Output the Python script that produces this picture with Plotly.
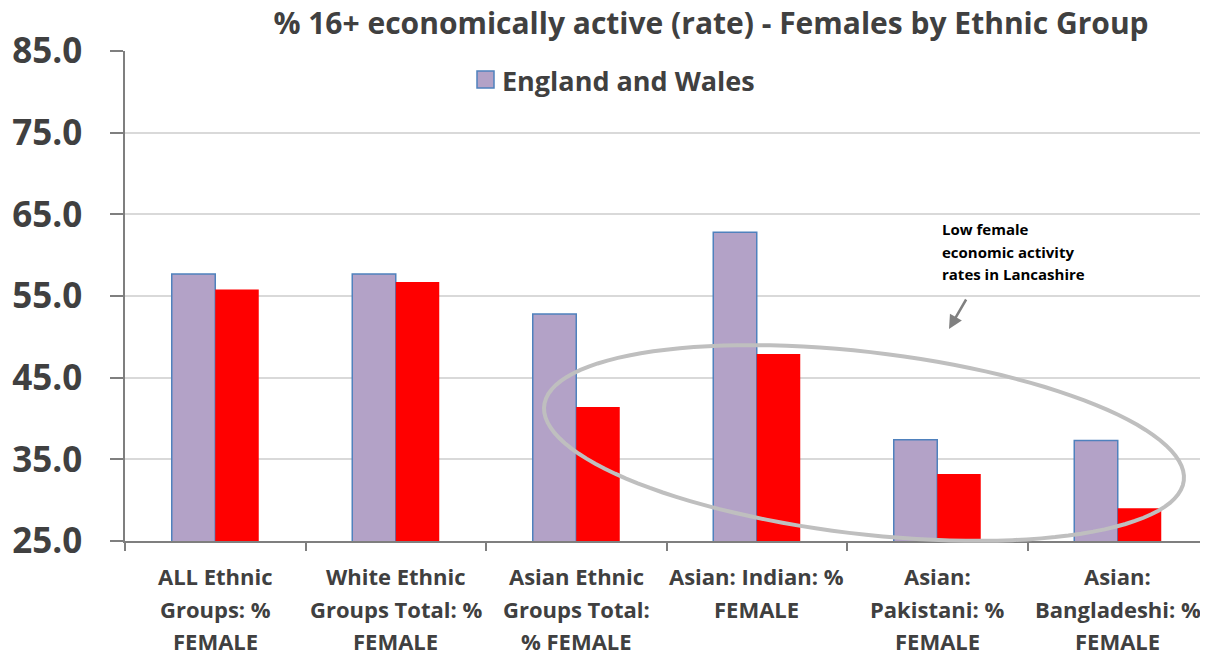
import numpy as np
import plotly.graph_objects as go

categories = ["ALL Ethnic Groups: % FEMALE", "White Ethnic Groups Total: % FEMALE",
              "Asian Ethnic Groups Total: % FEMALE", "Asian: Indian: % FEMALE",
              "Asian: Pakistani: % FEMALE", "Asian: Bangladeshi: % FEMALE"]
tick_labels = ["ALL Ethnic<br>Groups: %<br>FEMALE", "White Ethnic<br>Groups Total: %<br>FEMALE",
               "Asian Ethnic<br>Groups Total:<br>% FEMALE", "Asian: Indian: %<br>FEMALE",
               "Asian:<br>Pakistani: %<br>FEMALE", "Asian:<br>Bangladeshi: %<br>FEMALE"]
england_wales = [57.7, 57.7, 52.8, 62.8, 37.4, 37.3]
lancashire = [55.8, 56.7, 41.4, 47.9, 33.2, 29.0]
y_ticks = [25, 35, 45, 55, 65, 75, 85]
note_lines = ["Low female", "economic activity", "rates in Lancashire"]

# page has an 8px body margin: figure occupies (8..1208, 8..655) of the window
OFF = 8
W, H = 1208 - OFF, 655 - OFF
X0, X1, Y0, Y1 = 125, 1208, 51, 541          # plot area in window pixels
ML, MR, MT, MB = X0 - OFF, 1208 - X1, Y0 - OFF, 655 - Y1
PW, PH = X1 - X0, Y1 - Y0

def px2paper(x, y):
    return (x - X0) / PW, (Y1 - y) / PH

FONT = "Open Sans"
GREY = "#404040"

fig = go.Figure()
fig.add_trace(go.Bar(x=categories, y=england_wales, name="England and Wales", showlegend=False,
                     marker=dict(color="#B3A2C7", line=dict(color="#4F81BD", width=1.5))))
fig.add_trace(go.Bar(x=categories, y=lancashire, name="Lancashire", showlegend=False,
                     marker=dict(color="#FF0000", line=dict(color="#FF0000", width=0))))

# legend (England and Wales)
ax0, ay0 = px2paper(477, 88)
ax1, ay1 = px2paper(494, 71)
fig.add_shape(type="rect", xref="paper", yref="paper", x0=ax0, y0=ay0, x1=ax1, y1=ay1,
              fillcolor="#B3A2C7", line=dict(color="#4F81BD", width=1.5))
lx, ly = px2paper(500, 80)
fig.add_annotation(x=lx, y=ly, xref="paper", yref="paper", xanchor="left", yanchor="middle",
                   showarrow=False, text="<b>England and Wales</b>",
                   font=dict(family=FONT, size=27, color=GREY))

# category labels (Excel-like line spacing)
for cat, lab in zip(categories, tick_labels):
    for j, part in enumerate(lab.split("<br>")):
        _, ly_ = px2paper(0, 576 + 32.5 * j)
        fig.add_annotation(x=cat, y=ly_, xref="x", yref="paper", xanchor="center",
                           yanchor="middle", showarrow=False, text=f"<b>{part}</b>",
                           font=dict(family=FONT, size=22, color=GREY))

# ellipse highlight
cx, cy, a, b, th = 864, 443, 322, 91, np.deg2rad(6.7)
t = np.linspace(0, 2 * np.pi, 120)
ex = cx + a * np.cos(th) * np.cos(t) - b * np.sin(th) * np.sin(t)
ey = cy + a * np.sin(th) * np.cos(t) + b * np.cos(th) * np.sin(t)
pts = [px2paper(x, y) for x, y in zip(ex, ey)]
path = "M " + " L ".join(f"{p[0]:.5f},{p[1]:.5f}" for p in pts) + " Z"
fig.add_shape(type="path", path=path, xref="paper", yref="paper",
              line=dict(color="#BFBFBF", width=4), layer="above")

for i, line in enumerate(note_lines):
    tx, ty = px2paper(940, 229 + 22.7 * i)
    fig.add_annotation(x=tx, y=ty, xref="paper", yref="paper", xanchor="left", yanchor="middle",
                       showarrow=False, text=f"<b>{line}</b>",
                       font=dict(family=FONT, size=15, color="#000000"))
hx, hy = px2paper(949, 329)
fig.add_annotation(x=hx, y=hy, xref="paper", yref="paper", text="", showarrow=True,
                   ax=18, ay=-31, arrowhead=2, arrowsize=1.1, arrowwidth=2.5,
                   arrowcolor="#808080")

fig.update_layout(
    width=W, height=H,
    margin=dict(l=ML, r=MR, t=MT, b=MB, autoexpand=False),
    paper_bgcolor="white", plot_bgcolor="white",
    barmode="group", bargap=0.518, bargroupgap=0,
    showlegend=False,
    title=dict(text="<b>% 16+ economically active (rate) - Females by Ethnic Group</b>",
               x=(711 - OFF) / W, xanchor="center", y=1 - (23 - OFF) / H, yanchor="middle",
               font=dict(family=FONT, size=30, color=GREY)),
    font=dict(family=FONT, color=GREY),
    xaxis=dict(tickvals=categories, showticklabels=False,
               tickson="boundaries", tickangle=0, automargin=False,
               ticks="outside", ticklen=8, tickcolor="#7F7F7F", tickwidth=1.5,
               showline=True, linecolor="#7F7F7F", linewidth=1.5, showgrid=False),
    yaxis=dict(range=[25, 85], tickvals=y_ticks, ticktext=[f"<b>{v:.1f}</b>" for v in y_ticks],
               automargin=False,
               ticks="outside", ticklen=13, tickcolor="#7F7F7F", tickwidth=1.5,
               showline=True, linecolor="#7F7F7F", linewidth=1.5,
               gridcolor="#D9D9D9", gridwidth=1.5, zeroline=False,
               tickfont=dict(family=FONT, size=35, color=GREY),
               ticklabelstandoff=21),
)
fig.write_html("out.html")
